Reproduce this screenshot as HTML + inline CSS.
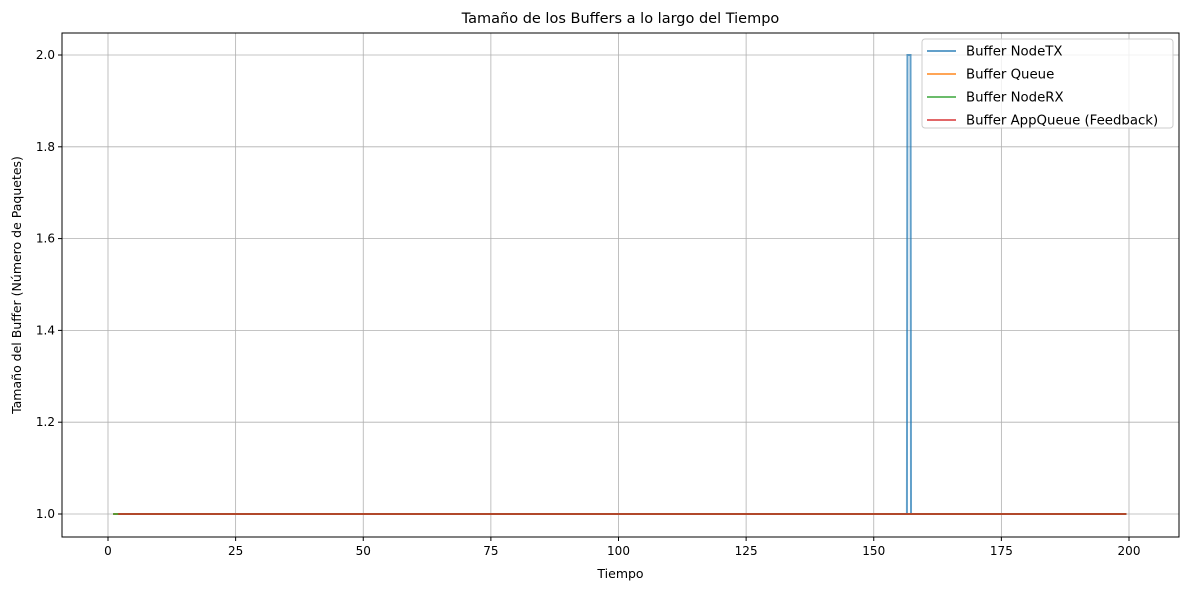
<!DOCTYPE html>
<html><head><meta charset="utf-8"><style>
body{margin:0;background:#fff;font-family:"Liberation Sans","DejaVu Sans",sans-serif;}
svg text{font-family:"DejaVu Sans","Liberation Sans",sans-serif;}
</style></head><body>
<svg id="c" width="1189" height="590"></svg>
<script>
const tickX=[0,25,50,75,100,125,150,175,200];
const tickY=[1.0,1.2,1.4,1.6,1.8,2.0];
const seriesNames=["Buffer NodeTX","Buffer Queue","Buffer NodeRX","Buffer AppQueue (Feedback)"];
const seriesColors=["#1f77b4","#ff7f0e","#2ca02c","#d62728"];
const txTimes=[1,156.5,156.6,157.2,157.3,199.5];
const txValues=[1,1,2,2,1,1];
const queueTimes=[1,199.5];
const queueValues=[1,1];
const rxTimes=[1,199.5];
const rxValues=[1,1];
const appTimes=[2,199.5];
const appValues=[1,1];
const L=62,R=1179,T=33,B=537;
const X=t=>108+(t-0)*(1129-108)/200;
const Y=v=>514-(v-1)*(514-55)/1;
const svg=document.getElementById('c');const NS="http://www.w3.org/2000/svg";
function el(tag,a,p){const e=document.createElementNS(NS,tag);for(const k in a)e.setAttribute(k,a[k]);(p||svg).appendChild(e);return e;}
const grid=el('g',{});


tickX.forEach(t=>{el('line',{x1:X(t),x2:X(t),y1:T,y2:B,stroke:'#b0b0b0','stroke-width':0.8},grid);
 el('line',{x1:X(t),x2:X(t),y1:B,y2:B+4,stroke:'#000'});
 const tx=el('text',{x:X(t),y:B+18,'text-anchor':'middle','font-size':12});tx.textContent=t;
 
 });
tickY.forEach(v=>{el('line',{x1:L,x2:R,y1:Y(v),y2:Y(v),stroke:'#b0b0b0','stroke-width':0.8},grid);
 el('line',{x1:L-4,x2:L,y1:Y(v),y2:Y(v),stroke:'#000'});
 const tx=el('text',{x:L-7,y:Y(v)+4,'text-anchor':'end','font-size':12});tx.textContent=v.toFixed(1);
 
 });
const sets=[[txTimes,txValues],[queueTimes,queueValues],[rxTimes,rxValues],[appTimes,appValues]];
sets.forEach((s,i)=>{const pts=s[0].map((t,j)=>X(t)+','+Y(s[1][j])).join(' ');
 const p=el('polyline',{points:pts,fill:'none',stroke:seriesColors[i],'stroke-width':2,'stroke-opacity':0.7});
 
 });
const ax=el('rect',{x:L,y:T,width:R-L,height:B-T,fill:'none',stroke:'#000','stroke-width':1});


const lg=el('g',{});


el('rect',{x:922,y:39,width:251,height:89,rx:3,fill:'#fff','fill-opacity':0.8,stroke:'#ccc'},lg);
seriesNames.forEach((n,i)=>{const y=51+i*23;
 el('line',{x1:927,x2:956,y1:y,y2:y,stroke:seriesColors[i],'stroke-width':2,'stroke-opacity':0.7},lg);
 const t=el('text',{x:966,y:y+4.5,'font-size':13.3},lg);t.textContent=n;
 
 });
const tt=el('text',{x:620.5,y:23,'text-anchor':'middle','font-size':14.5});tt.textContent="Tamaño de los Buffers a lo largo del Tiempo";


const xt=el('text',{x:620.5,y:578,'text-anchor':'middle','font-size':12.5});xt.textContent="Tiempo";


const yt=el('text',{x:21,y:285,'text-anchor':'middle','font-size':12.5,transform:'rotate(-90 21 285)'});yt.textContent="Tamaño del Buffer (Número de Paquetes)";


</script>
</body></html>
